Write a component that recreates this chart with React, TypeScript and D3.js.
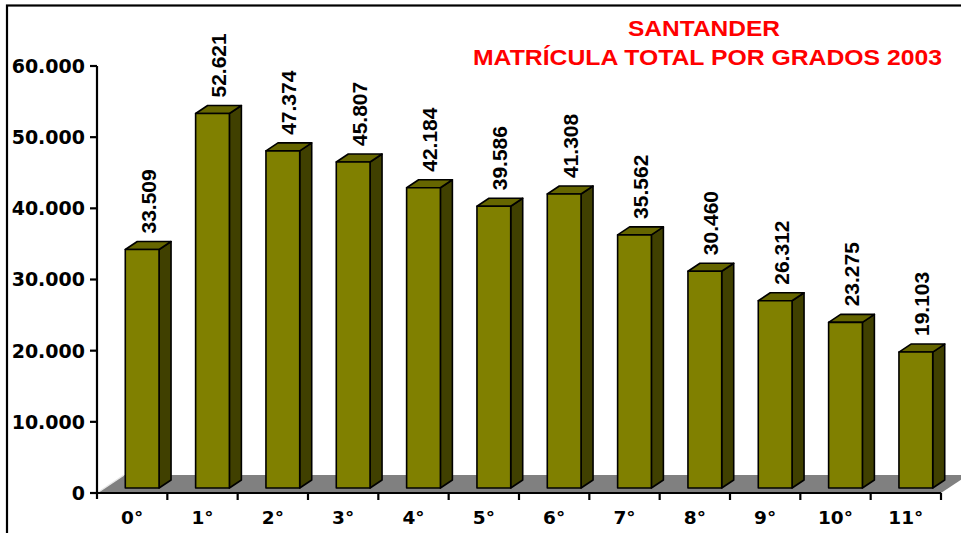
import React from "react";
import * as d3 from "d3";

const categories = ["0°", "1°", "2°", "3°", "4°", "5°", "6°", "7°", "8°", "9°", "10°", "11°"];
const values = [33509, 52621, 47374, 45807, 42184, 39586, 41308, 35562, 30460, 26312, 23275, 19103];
const yTicks = [0, 10000, 20000, 30000, 40000, 50000, 60000];
const titleLines = ["SANTANDER", "MATRÍCULA TOTAL POR GRADOS 2003"];

const W = 961;
const H = 533;

const locale = d3.formatLocale({ decimal: ",", thousands: ".", grouping: [3], currency: ["$", ""] });
const fmt = locale.format(",d");

export default function App() {
  const x0 = 97;
  const x1 = 941;
  const yBase = 493;
  const yTop = 66;

  const x = d3.scaleBand<string>().domain(categories).range([x0, x1]).paddingInner(0.52).paddingOuter(0.26);
  const y = d3.scaleLinear().domain([0, 60000]).range([yBase, yTop]);
  const step = x.step();

  const fdx = 27;
  const fdy = 18;
  const bsx = 10;
  const bsy = 5;
  const bdx = 12;
  const bdy = 8;
  const bw = x.bandwidth();

  const axisFont = "'DejaVu Sans', Verdana, sans-serif";
  const arialFont = "'Liberation Sans', Arial, sans-serif";

  return (
    <svg width={W} height={H} style={{ position: "absolute", left: 0, top: 0, background: "#fff" }}>
      <rect x={7} y={5.5} width={2000} height={2000} fill="none" stroke="#000" strokeWidth={2.2} />

      <polygon
        points={`${x0},${yBase} ${x1},${yBase} ${x1 + fdx},${yBase - fdy} ${x0 + fdx},${yBase - fdy}`}
        fill="#808080"
      />
      <line x1={x0} y1={yBase} x2={x0 + fdx} y2={yBase - fdy} stroke="#e8e8e8" strokeWidth={1.5} />

      {values.map((v, i) => {
        const bx = (x(categories[i]) as number) + bsx;
        const by0 = yBase - bsy;
        const byt = y(v) - bsy;
        const side = `${bx + bw},${byt} ${bx + bw + bdx},${byt - bdy} ${bx + bw + bdx},${by0 - bdy} ${bx + bw},${by0}`;
        const top = `${bx},${byt} ${bx + bdx},${byt - bdy} ${bx + bw + bdx},${byt - bdy} ${bx + bw},${byt}`;
        return (
          <g key={i} stroke="#000" strokeWidth={1.6} strokeLinejoin="round">
            <polygon points={side} fill="#404000" />
            <polygon points={top} fill="#666600" />
            <rect x={bx} y={byt} width={bw} height={by0 - byt} fill="#808000" />
          </g>
        );
      })}

      {values.map((v, i) => {
        const bx = (x(categories[i]) as number) + bsx;
        const cx = bx + bw / 2 + bdx / 2;
        const ty = y(v) - bsy - bdy - 8;
        return (
          <text
            key={i}
            transform={`translate(${cx},${ty}) rotate(-90)`}
            dy="0.36em"
            fontFamily={arialFont}
            fontWeight="bold"
            fontSize={21}
            fill="#000"
            textAnchor="start"
          >
            {fmt(v)}
          </text>
        );
      })}

      <line x1={x0} y1={yTop} x2={x0} y2={yBase + 6} stroke="#000" strokeWidth={2.2} />
      {yTicks.map((t) => (
        <g key={t}>
          <line x1={x0 - 7} y1={y(t)} x2={x0} y2={y(t)} stroke="#000" strokeWidth={2.2} />
          <text
            x={85}
            y={y(t)}
            dy="0.36em"
            textAnchor="end"
            fontFamily={axisFont}
            fontWeight="bold"
            fontSize={19}
            fill="#000"
          >
            {fmt(t)}
          </text>
        </g>
      ))}

      <line x1={x0} y1={yBase} x2={x1} y2={yBase} stroke="#000" strokeWidth={2.2} />
      {categories.map((c, i) => (
        <line key={"t" + i} x1={x0 + (i + 1) * step} y1={yBase} x2={x0 + (i + 1) * step} y2={yBase + 7} stroke="#000" strokeWidth={2.2} />
      ))}
      {categories.map((c) => (
        <text
          key={c}
          x={(x(c) as number) + bw / 2}
          y={524}
          textAnchor="middle"
          fontFamily={axisFont}
          fontWeight="bold"
          fontSize={18.5}
          fill="#000"
        >
          {c}
        </text>
      ))}

      <text x={704} y={36} textAnchor="middle" fontFamily={arialFont} fontWeight="bold" fontSize={22} fill="#ff0000" textLength={152} lengthAdjust="spacingAndGlyphs">
        {titleLines[0]}
      </text>
      <text x={707.5} y={65} textAnchor="middle" fontFamily={arialFont} fontWeight="bold" fontSize={22} fill="#ff0000" textLength={469} lengthAdjust="spacingAndGlyphs">
        {titleLines[1]}
      </text>
    </svg>
  );
}
